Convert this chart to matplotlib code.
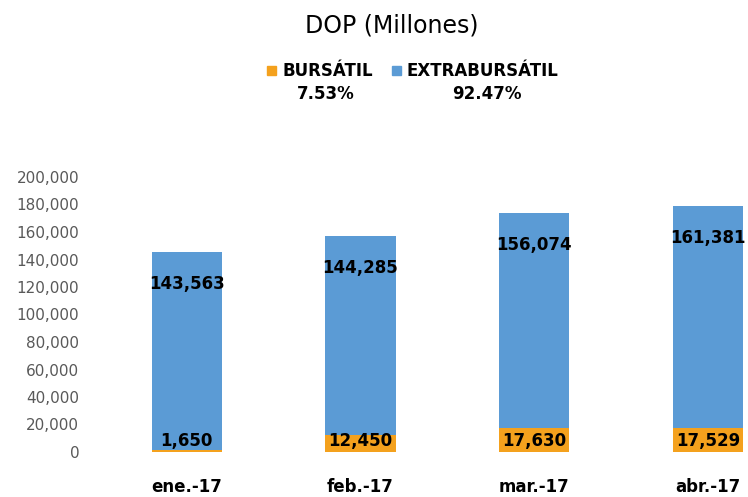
import matplotlib
matplotlib.use('Agg')
import matplotlib.pyplot as plt
from matplotlib.patches import Rectangle
from matplotlib.ticker import FuncFormatter

# datos (DOP millones)
meses = ['ene.-17', 'feb.-17', 'mar.-17', 'abr.-17']
bursatil = [1650, 12450, 17630, 17529]
extrabursatil = [143563, 144285, 156074, 161381]

color_bur = '#F4A11D'
color_ext = '#5B9BD5'

total_bur = sum(bursatil)
total_ext = sum(extrabursatil)
pct_bur = total_bur / (total_bur + total_ext) * 100
pct_ext = total_ext / (total_bur + total_ext) * 100

W, H = 748, 497
fig = plt.figure(figsize=(W / 100, H / 100), dpi=100)
fig.patch.set_facecolor('white')

ax = fig.add_axes([100 / W, 45 / H, (W - 100) / W, 275 / H])
x = list(range(len(meses)))
ax.bar(x, bursatil, width=0.405, color=color_bur)
ax.bar(x, extrabursatil, width=0.405, bottom=bursatil, color=color_ext)

ax.set_ylim(0, 200000)
ax.set_xlim(-0.5, 3.231)
ax.set_yticks(range(0, 200001, 20000))
ax.yaxis.set_major_formatter(FuncFormatter(lambda v, p: '{:,.0f}'.format(v)))
ax.tick_params(axis='y', length=0, pad=15, labelsize=11, labelcolor='#595959')
ax.set_xticks(x)
ax.set_xticklabels(meses, fontsize=12, fontweight='bold')
ax.tick_params(axis='x', length=0, pad=19)
for s in ax.spines.values():
    s.set_visible(False)

# etiquetas de datos
for i in x:
    top = bursatil[i] + extrabursatil[i]
    ax.annotate('{:,}'.format(extrabursatil[i]), (i, top), xytext=(0, -23),
                textcoords='offset points', ha='center', va='center',
                fontsize=12, fontweight='bold', color='black')
    ax.annotate('{:,}'.format(bursatil[i]), (i, 0), xytext=(0, 8),
                textcoords='offset points', ha='center', va='center',
                fontsize=12, fontweight='bold', color='black')

# titulo y leyenda
fig.text(392 / W, 1 - 26 / H, 'DOP (Millones)', ha='center', va='center', fontsize=17)

fig.patches.append(Rectangle((267 / W, 1 - 75 / H), 9 / W, 9 / H,
                             transform=fig.transFigure, color=color_bur))
fig.text(283 / W, 1 - 71 / H, 'BURSÁTIL', ha='left', va='center', fontsize=12, fontweight='bold')
fig.patches.append(Rectangle((392 / W, 1 - 75 / H), 9 / W, 9 / H,
                             transform=fig.transFigure, color=color_ext))
fig.text(407 / W, 1 - 71 / H, 'EXTRABURSÁTIL', ha='left', va='center', fontsize=12, fontweight='bold')
fig.text(326 / W, 1 - 94 / H, '{:.2f}%'.format(pct_bur), ha='center', va='center',
         fontsize=12, fontweight='bold')
fig.text(487 / W, 1 - 94 / H, '{:.2f}%'.format(pct_ext), ha='center', va='center',
         fontsize=12, fontweight='bold')

fig.savefig('out.png', dpi=100)
